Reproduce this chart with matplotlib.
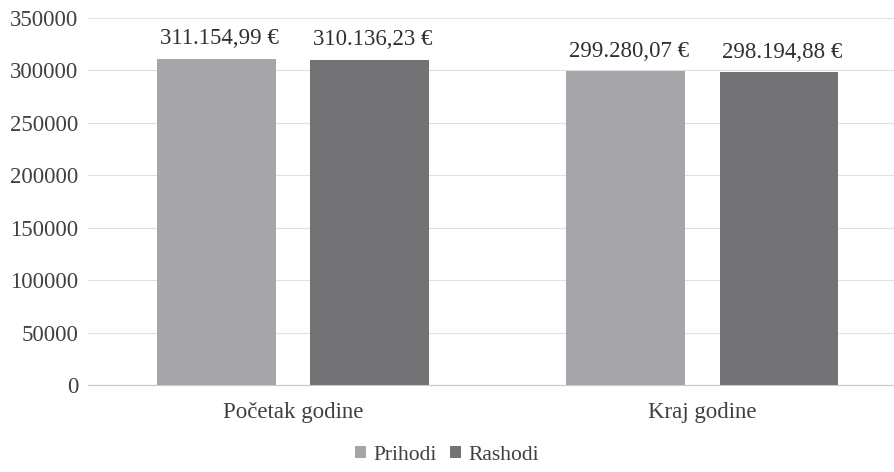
import numpy as np
import matplotlib.pyplot as plt

categories = ["Početak godine", "Kraj godine"]
series = ["Prihodi", "Rashodi"]
prihodi = [311154.99, 299280.07]
rashodi = [310136.23, 298194.88]
colors = ["#a6a6aa", "#737375"]


def eur(v):
    s = f"{v:,.2f}"
    s = s.replace(",", "X").replace(".", ",").replace("X", ".")
    return s + " €"


plt.rcParams["font.family"] = ["Liberation Serif", "DejaVu Serif"]

fig = plt.figure(figsize=(8.94, 4.72), dpi=100)
ax = fig.add_axes([88 / 894, 87 / 472, 1 - 88 / 894, (385 - 18) / 472])

x = np.arange(len(categories))
w = 0.29
off = 0.187
for i, (vals, name) in enumerate(zip([prihodi, rashodi], series)):
    pos = x + (-off if i == 0 else off)
    bars = ax.bar(pos, vals, w, color=colors[i], label=name, zorder=2)
    for b, v in zip(bars, vals):
        ax.text(b.get_x() + b.get_width() / 2 + 0.008, v + 9000, eur(v),
                ha="center", va="bottom", fontsize=16.5, color="#303030")

ax.set_xlim(-0.5, 1.468)
ax.set_ylim(0, 350000)
ax.set_yticks(np.arange(0, 350001, 50000))
ax.yaxis.grid(True, color="#e0e0e0", linewidth=0.8, zorder=0)
ax.set_xticks(x)
ax.set_xticklabels(categories)
ax.tick_params(axis="both", length=0, labelsize=16.5, colors="#404040")
ax.tick_params(axis="y", pad=7)
ax.tick_params(axis="x", pad=12)
for s in ["top", "right", "left"]:
    ax.spines[s].set_visible(False)
ax.spines["bottom"].set_color("#c8c8c8")

fig.legend(loc="center", bbox_to_anchor=(0.5, 0.036), ncol=2, frameon=False,
           fontsize=15.5, handlelength=0.5, handleheight=0.5, handletextpad=0.35,
           columnspacing=0.6, labelcolor="#404040")

fig.savefig("out.png", dpi=100)
